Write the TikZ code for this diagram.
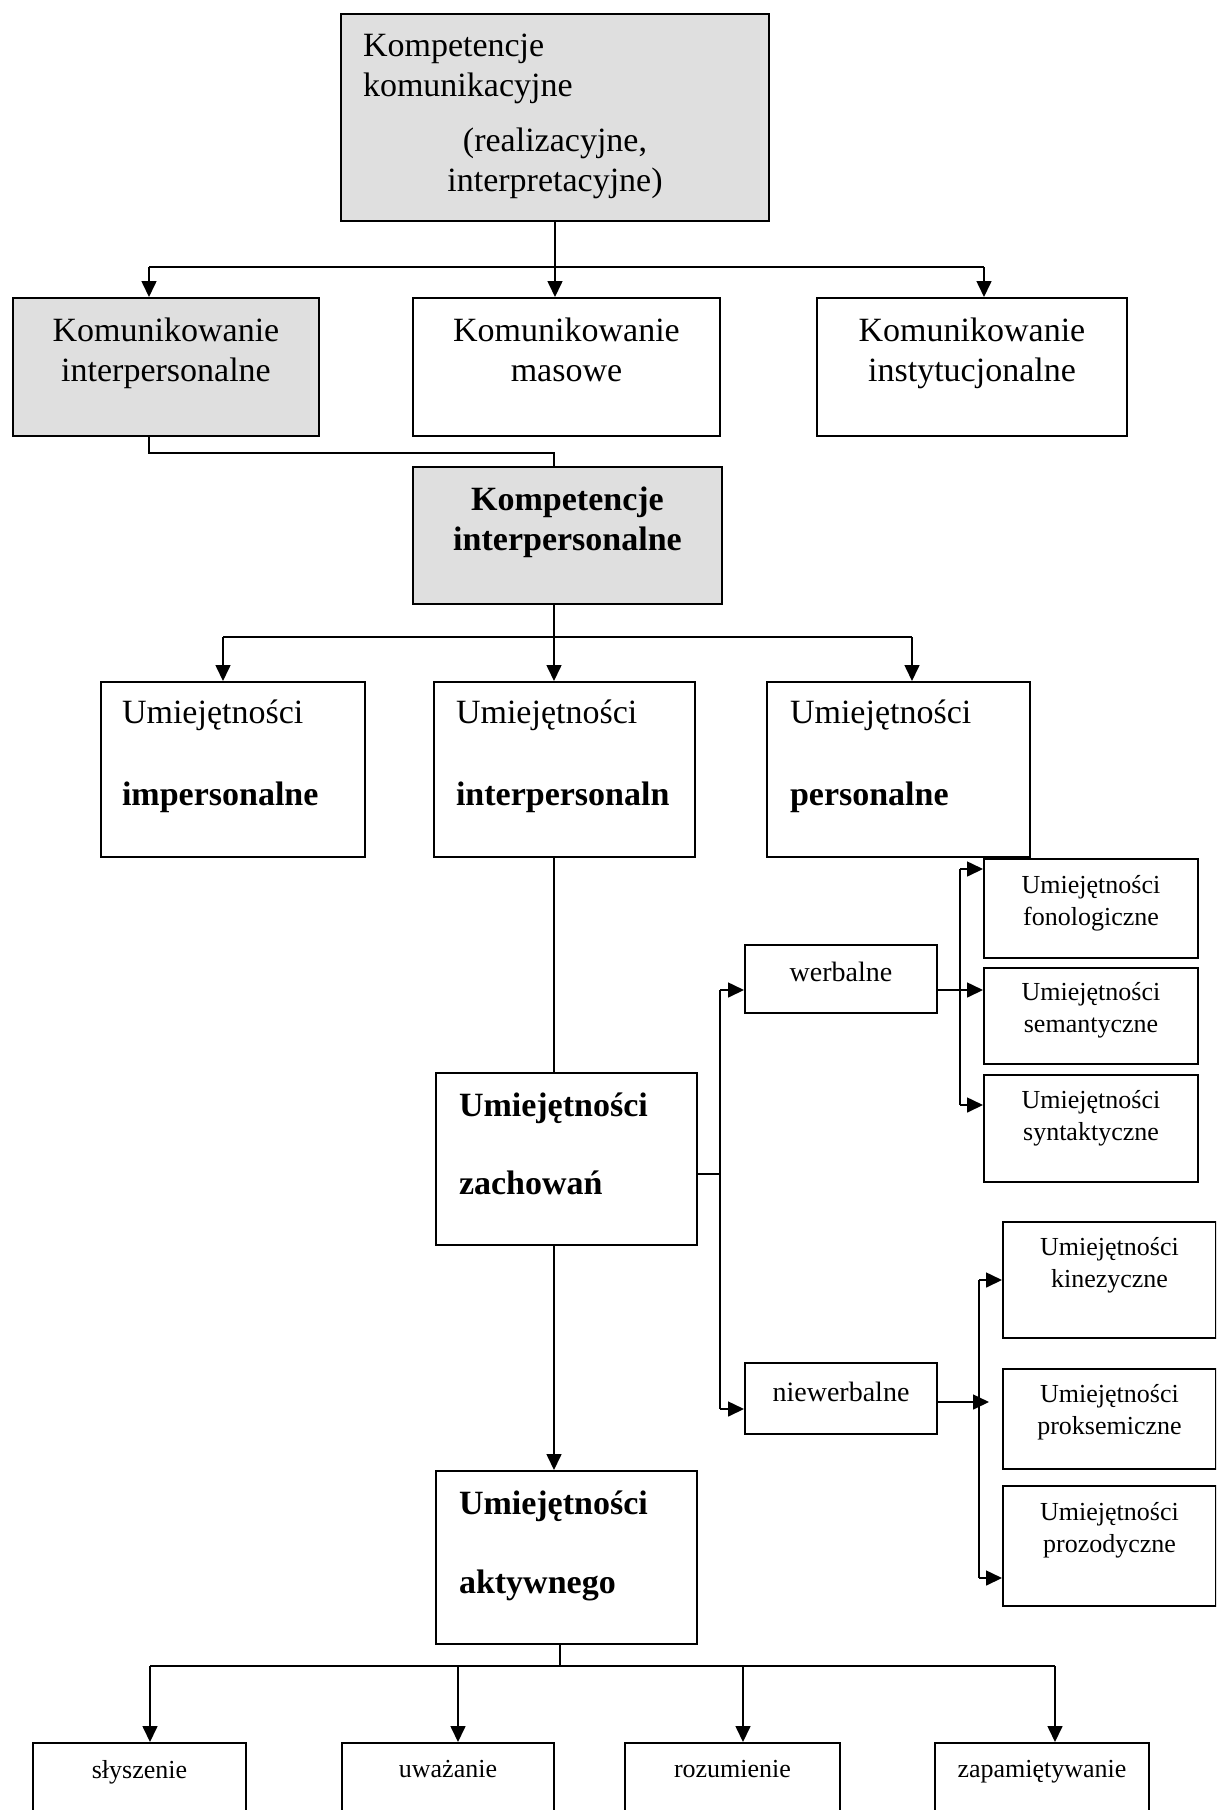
\documentclass[tikz,border=0pt]{standalone}
\usepackage{fontspec}
\setmainfont{Liberation Serif}
\usetikzlibrary{arrows.meta}

\newcommand{\fa}{\fontsize{17}{20}\selectfont}
\newcommand{\fb}{\fontsize{14}{17}\selectfont}
\newcommand{\fc}{\fontsize{13}{16}\selectfont}
\newcommand{\boxtext}[4]{\parbox[c][#2pt][t]{#1pt}{\vspace*{#3pt}#4}}

\begin{document}
\begin{tikzpicture}[x=0.5pt,y=-0.5pt,line width=0.8pt]%
  \tikzstyle{box}=[draw,line width=1pt,inner sep=0pt,anchor=north west]
  \tikzstyle{shaded}=[box,fill=gray!25]
  \tikzstyle{arr}=[-{Triangle[length=8pt,width=7.5pt]}]
  \clip (0,0) rectangle (1216,1810);
  % top
  \node[shaded] (kk) at (340,13) {\boxtext{214}{103.5}{10}{\fa
    {\raggedright\leftskip=11pt Kompetencje\\komunikacyjne\par}\vspace{7.5pt}
    {\centering (realizacyjne,\\interpretacyjne)\par}}};
  % komunikowanie
  \node[shaded] (ki) at (12,297) {\boxtext{153}{69}{9.9}{\fa\centering Komunikowanie\\interpersonalne}};
  \node[box] (km) at (412,297) {\boxtext{153.5}{69}{9.9}{\fa\centering Komunikowanie\\masowe}};
  \node[box] (kin) at (816,297) {\boxtext{155}{69}{9.9}{\fa\centering Komunikowanie\\instytucjonalne}};
  \node[shaded] (kip) at (412,466) {\boxtext{154.5}{68.5}{9.8}{\fa\bfseries\centering Kompetencje\\interpersonalne}};
  % umiejetnosci
  \node[box] (ui) at (100,681) {\boxtext{132}{87.5}{8.7}{\fa\raggedright\leftskip=10.5pt Umiejętności\\[21pt]\textbf{impersonalne}}};
  \node[box] (uin) at (433,681) {\boxtext{130.5}{87.5}{8.7}{\fa\raggedright\leftskip=11pt Umiejętności\\[21pt]\textbf{interpersonaln}}};
  \node[box] (up) at (766,681) {\boxtext{131.5}{87.5}{8.7}{\fa\raggedright\leftskip=11.5pt Umiejętności\\[21pt]\textbf{personalne}}};
  \node[box] (zach) at (435,1072) {\boxtext{130.5}{86}{9.7}{\fa\bfseries\raggedright\leftskip=11.5pt Umiejętności\\[19pt]zachowań}};
  \node[box] (akt) at (435,1470) {\boxtext{130.5}{86.5}{10}{\fa\bfseries\raggedright\leftskip=11.5pt Umiejętności\\[19.5pt]aktywnego}};
  % werbalne / niewerbalne
  \node[box] (werb) at (744,944) {\boxtext{96}{34}{8.5}{\fb\centering werbalne}};
  \node[box] (niew) at (744,1362) {\boxtext{96}{35.5}{9.5}{\fb\centering niewerbalne}};
  \node[box] (fono) at (983,858) {\boxtext{107}{49.5}{8}{\fc\centering Umiejętności\\fonologiczne}};
  \node[box] (sem) at (983,967) {\boxtext{107}{48}{7}{\fc\centering Umiejętności\\semantyczne}};
  \node[box] (synt) at (983,1074) {\boxtext{107}{53.5}{7.5}{\fc\centering Umiejętności\\syntaktyczne}};
  \node[box] (kin2) at (1002,1221) {\boxtext{106.5}{58}{7.5}{\fc\centering Umiejętności\\kinezyczne}};
  \node[box] (prok) at (1002,1368) {\boxtext{106.5}{50}{7.5}{\fc\centering Umiejętności\\proksemiczne}};
  \node[box] (proz) at (1002,1485) {\boxtext{106.5}{60}{8}{\fc\centering Umiejętności\\prozodyczne}};
  % bottom row
  \node[box] (sly) at (32,1742) {\boxtext{106.5}{60}{8.5}{\fc\centering słyszenie}};
  \node[box] (uwa) at (341,1742) {\boxtext{106}{60}{8.5}{\fc\centering uważanie}};
  \node[box] (roz) at (624,1742) {\boxtext{107.5}{60}{8.5}{\fc\centering rozumienie}};
  \node[box] (zap) at (934,1742) {\boxtext{107}{60}{8.5}{\fc\centering zapamiętywanie}};
  % connectors
  \coordinate (h1l) at (149,267);
  \coordinate (h1r) at (984,267);
  \draw (h1l) -- (h1r);
  \draw[arr] (kk.south) -- (kk.south |- km.north);
  \draw[arr] (h1l) -- (h1l |- ki.north);
  \draw[arr] (h1r) -- (h1r |- kin.north);
  \coordinate (h2) at (554,453);
  \draw (h1l |- ki.south) |- (h2) -- (h2 |- kip.north);
  \coordinate (h3l) at (223,637);
  \coordinate (h3r) at (912,637);
  \draw (h2 |- kip.south) -- (h2 |- h3l);
  \draw (h3l) -- (h3r);
  \draw[arr] (h3l) -- (h3l |- ui.north);
  \draw[arr] (h2 |- h3l) -- (h2 |- uin.north);
  \draw[arr] (h3r) -- (h3r |- up.north);
  \draw (h2 |- uin.south) -- (h2 |- zach.north);
  \draw[arr] (h2 |- zach.south) -- (h2 |- akt.north);
  \coordinate (vz) at (720,1174);
  \coordinate (vw) at (720,990);
  \coordinate (vn) at (720,1409);
  \draw (vz -| zach.east) -- (vz);
  \draw (vw) -- (vn);
  \draw[arr] (vw) -- (vw -| werb.west);
  \draw[arr] (vn) -- (vn -| niew.west);
  \coordinate (wf) at (960,869);
  \coordinate (ws) at (960,1105);
  \draw (wf) -- (ws);
  \draw[arr] (vw -| werb.east) -- (vw -| sem.west);
  \draw[arr] (wf) -- (wf -| fono.west);
  \draw[arr] (ws) -- (ws -| synt.west);
  \coordinate (nk) at (979,1280);
  \coordinate (nm) at (979,1402);
  \coordinate (np) at (979,1578);
  \coordinate (nt) at (989,1402);
  \draw (nk) -- (np);
  \draw[arr] (nm -| niew.east) -- (nt);
  \draw[arr] (nk) -- (nk -| kin2.west);
  \draw[arr] (np) -- (np -| proz.west);
  \coordinate (ha) at (560,1666);
  \coordinate (tsly) at (150,1666);
  \coordinate (tuwa) at (458,1666);
  \coordinate (troz) at (743,1666);
  \coordinate (tzap) at (1055,1666);
  \draw (ha |- akt.south) -- (ha);
  \draw (tsly) -- (tzap);
  \draw[arr] (tsly) -- (tsly |- sly.north);
  \draw[arr] (tuwa) -- (tuwa |- uwa.north);
  \draw[arr] (troz) -- (troz |- roz.north);
  \draw[arr] (tzap) -- (tzap |- zap.north);
\end{tikzpicture}
\end{document}
